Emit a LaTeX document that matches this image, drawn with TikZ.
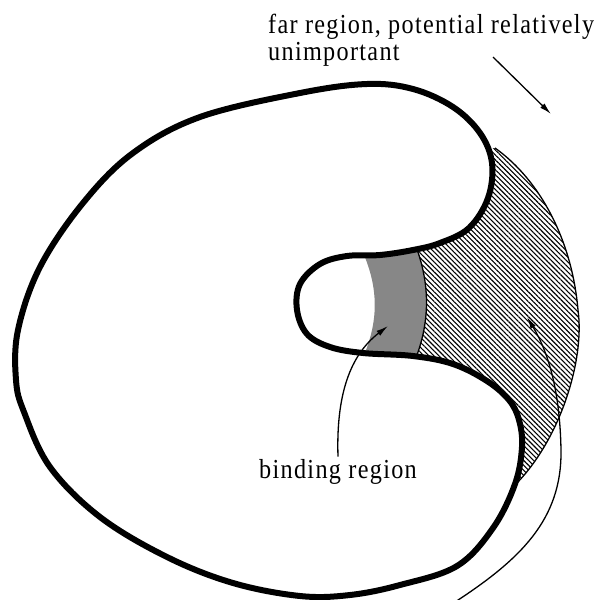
\documentclass[tikz,border=0pt]{standalone}
\usepackage{fontspec}
\usepackage{tikz}
\usetikzlibrary{arrows.meta, patterns.meta}
\newfontfamily\lblfont[FakeStretch=0.88, LetterSpace=4.8]{Liberation Serif}
\definecolor{stipple}{RGB}{135,135,135}

\begin{document}
\begin{tikzpicture}[x=1pt, y=-1pt, >={Latex[length=12pt,width=6pt]},
  outline/.style={line width=6pt, line join=round},
  thin/.style={line width=1.3pt},
  lbl/.style={font=\lblfont\fontsize{27.5}{27}\selectfont, inner sep=2pt}]
  \useasboundingbox (0,0) rectangle (603,600);

  % far region (hatched), overlaps into the body
  \fill[pattern={Lines[angle=-45, distance=3.5pt, line width=1.1pt]}]
    (410,232) .. controls (432,280) and (432,325) .. (410,372)
    -- (495,478) -- (515,485) .. controls (560,440) and (585,360) .. (578,310)
    .. controls (572,240) and (540,180) .. (495,148) -- (465,150) -- cycle;
  \draw[thin] (515,485) .. controls (560,440) and (585,360) .. (578,310)
    .. controls (572,240) and (540,180) .. (495,148);

  % binding region (grey)
  \fill[stipple] (356,238) .. controls (381,285) and (381,325) .. (356,372)
    -- (410,372) .. controls (432,325) and (432,280) .. (410,232) -- cycle;
  \draw[thin] (410,232) .. controls (432,280) and (432,325) .. (410,372);

  % body outline
  \draw[outline, fill=white] plot[smooth cycle, tension=0.6] coordinates {
    (480,133) (453,107) (413,89) (367,84) (300,93) (200,117) (133,153)
    (83,203) (40,267) (18,330) (16,380) (24,412) (50,467) (100,517)
    (167,557) (233,583) (300,596) (350,595) (400,585) (457,566) (493,528)
    (515,484) (522,447) (519,420) (509,400) (487,381) (453,364) (413,356)
    (363,353) (330,347) (307,334) (297,310) (300,284) (320,264) (347,256)
    (380,255) (413,250) (440,243) (469,228) (488,198) (492,163)};

  % labels
  \node[lbl, anchor=base west] (far) at (266,33)
    {far region, potential relatively};
  \node[lbl, anchor=base west] (far2) at (266,60) {unimportant};
  \node[lbl, anchor=base] (bind) at (338,478) {binding region};

  \coordinate (farA) at (493,57);
  \coordinate (farB) at (551,114);
  \coordinate (bindtip) at (388,326);
  \coordinate (hatchtip) at (527,317);
  \coordinate (low) at (452,604);

  % arrows
  \draw[thin, ->] (farA) -- (farB);
  \draw[thin, ->] (bind.north) .. controls (336,395) and (350,355) .. (bindtip);
  \draw[thin, ->] (low) .. controls (520,560) and (562,520) .. (561,450)
    .. controls (560,395) and (550,355) .. (hatchtip);
\end{tikzpicture}
\end{document}
